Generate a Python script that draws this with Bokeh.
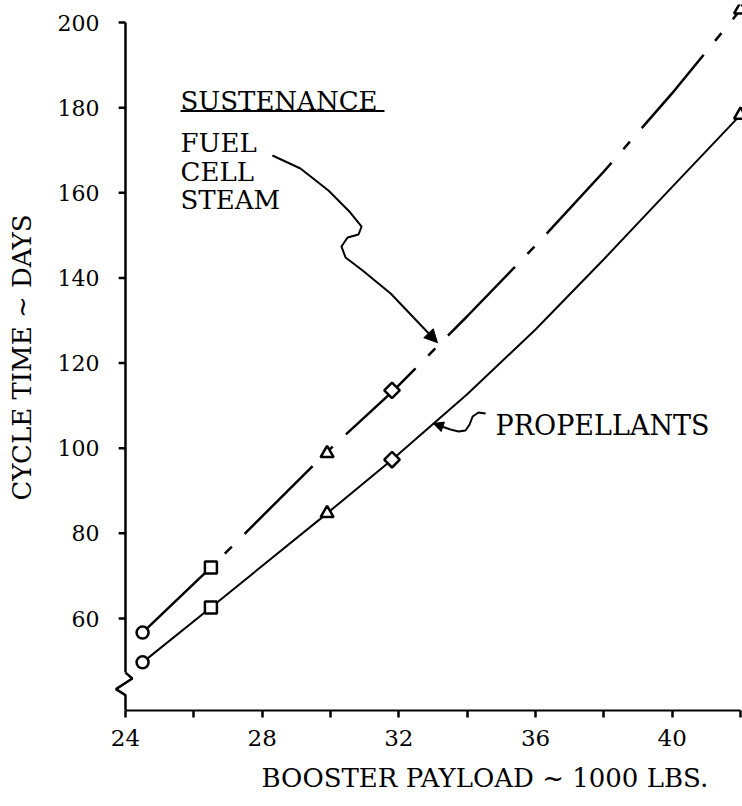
from bokeh.plotting import figure
from bokeh.models import Range1d, FixedTicker, Label, Arrow, NormalHead, Title
from bokeh.embed import file_html
from bokeh.resources import INLINE

# ---- data ----
payload_markers = [24.5, 26.5, 29.9, 31.8]          # x of plotted symbols (1000 lbs)
marker_kinds = ["circle", "square", "triangle", "diamond"]
fuel_cell_marker_days = [56.7, 72.0, 98.8, 113.6]
propellant_marker_days = [49.7, 62.6, 84.7, 97.3]

fuel_cell_x = [24.5, 26.5, 29.85, 31.85, 34.0, 36.0, 38.0, 40.0, 42.0]
fuel_cell_y = [56.7, 72.0, 98.8, 113.6, 131.0, 147.6, 165.0, 183.4, 203.0]

propellant_x = [24.5, 26.5, 29.9, 31.8, 34.0, 36.0, 38.0, 40.0, 42.0]
propellant_y = [49.7, 62.6, 84.7, 97.3, 112.7, 127.9, 144.4, 161.4, 178.3]

x_major_ticks = [24, 28, 32, 36, 40]
x_minor_ticks = [26, 30, 34, 38, 42]
y_ticks = [60, 80, 100, 120, 140, 160, 180, 200]
y_axis_top = 200
y_break = 47.3

FONT = "DejaVu Serif"
X0 = 24.0   # x value where the y axis is drawn

p = figure(width=742, height=806,
           x_range=Range1d(23.415, 42.057), y_range=Range1d(38.39, 204.23),
           output_backend="svg", toolbar_location=None,
           min_border_left=105, min_border_right=0, min_border_top=4, min_border_bottom=96)
p.xgrid.visible = False
p.ygrid.visible = False
p.outline_line_color = None
p.background_fill_color = "white"
p.border_fill_color = "white"

# left axis: labels only (line and ticks are drawn at x = 24 below, with a break)
ya = p.yaxis[0]
ya.ticker = FixedTicker(ticks=y_ticks)
ya.axis_line_color = None
ya.major_tick_line_color = None
ya.minor_tick_line_color = None
ya.major_tick_in = 0
ya.major_tick_out = 0
ya.major_label_standoff = 6
ya.major_label_text_font = FONT
ya.major_label_text_font_size = "22px"
ya.major_label_text_color = "black"
ya.axis_label = "CYCLE TIME ~ DAYS"
ya.axis_label_text_font = FONT
ya.axis_label_text_font_size = "26px"
ya.axis_label_text_font_style = "normal"
ya.axis_label_text_color = "black"
ya.axis_label_standoff = 18

xa = p.xaxis[0]
xa.bounds = (24, 42)
xa.ticker = FixedTicker(ticks=x_major_ticks, minor_ticks=x_minor_ticks)
xa.axis_line_width = 2.2
xa.axis_line_color = "black"
xa.major_tick_in = 0
xa.major_tick_out = 7
xa.minor_tick_in = 0
xa.minor_tick_out = 7
xa.major_tick_line_width = 2.5
xa.minor_tick_line_width = 2.5
xa.minor_tick_line_color = "black"
xa.major_label_standoff = 12
xa.major_label_text_font = FONT
xa.major_label_text_font_size = "23px"
xa.major_label_text_color = "black"

p.add_layout(Title(text="BOOSTER PAYLOAD ~ 1000 LBS.", align="left", offset=156,
                   text_font=FONT, text_font_size="26px", text_font_style="normal",
                   text_color="black", standoff=24), "below")

# y axis rule at x = 24 with tick marks and a break symbol
p.line([X0, X0], [y_break, y_axis_top], line_color="black", line_width=2.5)
p.segment(x0=[X0 - 0.2] * len(y_ticks), y0=y_ticks, x1=[X0] * len(y_ticks), y1=y_ticks,
          line_color="black", line_width=2.5)
p.line([X0, X0 + 0.2, X0 - 0.28, X0, X0], [y_break, 45.9, 43.4, 42.0, 38.39],
       line_color="black", line_width=2.5)

# curves
p.line(fuel_cell_x, fuel_cell_y, line_color="black", line_width=2.5, line_dash="96 18 10 18")
p.line(propellant_x, propellant_y, line_color="black", line_width=2)

for i, kind in enumerate(marker_kinds):
    opts = dict(fill_color="white", line_color="black", line_width=2.5)
    if kind == "diamond":
        opts.update(marker="square", size=11, angle=0.7854)
    elif kind == "triangle":
        opts.update(marker="triangle", size=13)
    else:
        opts.update(marker=kind, size=12)
    p.scatter([payload_markers[i]], [fuel_cell_marker_days[i]], **opts)
    p.scatter([payload_markers[i]], [propellant_marker_days[i]], **opts)

# open end symbols where both curves leave the chart at its right edge
p.scatter([fuel_cell_x[-1], propellant_x[-1]], [fuel_cell_y[-1], propellant_y[-1]],
          marker="triangle", size=13, fill_color="white", line_color="black", line_width=2.5)

# annotations
def lab(text, x, y, size="26px"):
    p.add_layout(Label(x=x, y=y, text=text, text_font=FONT, text_font_size=size,
                       text_color="black", text_align="left", text_baseline="alphabetic"))

lab("SUSTENANCE", 25.61, 181.45)
p.line([25.61, 31.58], [179.2, 179.2], line_color="black", line_width=2)
lab("FUEL", 25.61, 171.6)
lab("CELL", 25.61, 165.0)
lab("STEAM", 25.61, 158.4)
lab("PROPELLANTS", 34.83, 105.3, size="27px")

# wavy leader to fuel-cell curve
p.line([28.30, 29.12, 29.94, 30.58, 30.91, 30.82, 30.50, 30.32, 30.44, 30.94, 31.76, 32.43],
       [168.76, 165.71, 160.54, 155.37, 152.08, 150.20, 149.50, 147.39, 144.80, 141.75, 136.35, 130.71],
       line_color="black", line_width=2)
p.add_layout(Arrow(end=NormalHead(size=13, fill_color="black", line_color="black"),
                   x_start=32.43, y_start=130.71, x_end=33.13, y_end=124.8,
                   line_color="black", line_width=2))

# wavy leader to propellant curve
p.line([34.54, 34.33, 34.16, 34.07, 33.95, 33.75, 33.51],
       [108.16, 108.39, 107.45, 105.57, 104.16, 103.93, 104.40],
       line_color="black", line_width=2)
p.add_layout(Arrow(end=NormalHead(size=10, fill_color="black", line_color="black"),
                   x_start=33.51, y_start=104.40, x_end=33.01, y_end=105.81,
                   line_color="black", line_width=2))

open("out.html", "w").write(file_html(p, INLINE))
